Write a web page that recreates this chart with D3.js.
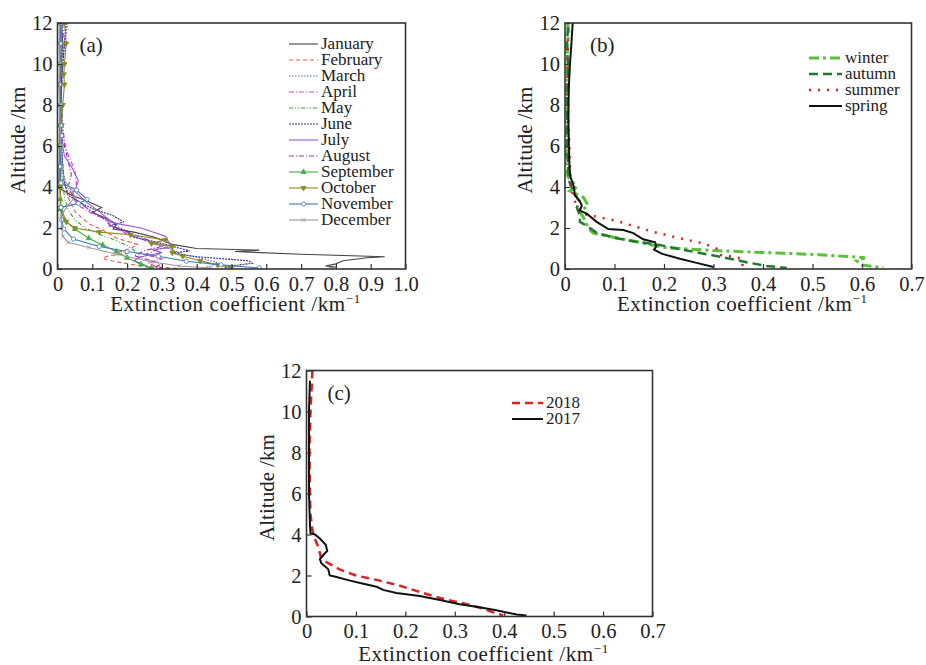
<!DOCTYPE html>
<html>
<head>
<meta charset="utf-8">
<script src="https://cdn.jsdelivr.net/npm/d3@7"></script>
<style>
  body { margin: 0; background: #fff; }
  svg text { font-family: "Liberation Serif", "Times New Roman", serif !important; fill: #222; }
</style>
</head>
<body>
<div id="chart"></div>
<script>
// tick labels
const X_TICKS_A = ["0", "0.1", "0.2", "0.3", "0.4", "0.5", "0.6", "0.7", "0.8", "0.9", "1.0"];
const X_TICKS_BC = ["0", "0.1", "0.2", "0.3", "0.4", "0.5", "0.6", "0.7"];
const Y_TICKS = [0, 2, 4, 6, 8, 10, 12];

// panel (a): monthly profiles, [extinction, altitude]
const months = ["January", "February", "March", "April", "May", "June", "July",
    "August", "September", "October", "November", "December"];
const january = [[0.012,12],[0.015,11],[0.01,10],[0.012,9],[0.008,8],[0.006,7],[0.006,6],[0.005,5],[0.004,4.2],[0.01,3.9],[0.04,3.6],[0.08,3.35],[0.127,3.0],[0.1,2.75],[0.13,2.55],[0.17,2.2],[0.16,1.95],[0.22,1.8],[0.28,1.55],[0.33,1.2],[0.4,1.0],[0.58,0.92],[0.51,0.85],[0.7,0.72],[0.94,0.6],[0.89,0.55],[0.82,0.4],[0.8,0.25],[0.77,0.15],[0.8,0.1],[0.78,0.05]];
const february = [[0.01,12],[0.006,11],[0.008,10],[0.005,9],[0.006,8],[0.008,7],[0.01,6],[0.012,5],[0.02,4.2],[0.03,3.5],[0.05,2.8],[0.09,2.2],[0.13,1.9],[0.17,1.5],[0.23,1.2],[0.21,1.0],[0.18,0.85],[0.2,0.75],[0.15,0.65],[0.13,0.55],[0.14,0.45],[0.18,0.32],[0.24,0.15],[0.3,0.08],[0.35,0.03]];
const march = [[0.03,12],[0.025,11.5],[0.02,11],[0.015,10],[0.012,9],[0.01,8],[0.01,7],[0.012,6],[0.015,5],[0.02,4.3],[0.03,3.8],[0.06,3.3],[0.09,2.9],[0.13,2.5],[0.18,2.0],[0.22,1.6],[0.28,1.2],[0.33,0.95],[0.36,0.7],[0.42,0.5],[0.46,0.3],[0.44,0.15],[0.42,0.05]];
const april = [[0.015,12],[0.02,11],[0.015,10],[0.01,9],[0.012,8],[0.015,7],[0.02,6.2],[0.03,5.6],[0.05,4.8],[0.055,4.0],[0.04,3.6],[0.06,3.1],[0.1,2.7],[0.14,2.4],[0.16,2.1],[0.2,1.7],[0.26,1.35],[0.32,1.1],[0.28,0.9],[0.25,0.7],[0.3,0.5],[0.26,0.3],[0.28,0.15],[0.3,0.05]];
const may = [[0.01,12],[0.012,11],[0.008,10],[0.01,9],[0.006,8],[0.008,7],[0.01,6],[0.012,5],[0.015,4.2],[0.02,3.5],[0.03,2.9],[0.05,2.4],[0.08,2.0],[0.12,1.7],[0.16,1.45],[0.2,1.15],[0.22,0.9],[0.24,0.6],[0.22,0.4],[0.25,0.2],[0.27,0.05]];
const june = [[0.025,12],[0.02,11],[0.015,10],[0.012,9],[0.01,8],[0.01,7],[0.012,6],[0.015,5],[0.02,4.2],[0.03,3.6],[0.07,3.2],[0.1,2.95],[0.16,2.6],[0.19,2.3],[0.15,2.1],[0.2,1.85],[0.22,1.55],[0.3,1.25],[0.38,0.88],[0.33,0.78],[0.4,0.6],[0.55,0.4],[0.56,0.28],[0.5,0.15],[0.48,0.05]];
const july = [[0.01,12],[0.012,11],[0.01,10],[0.008,9],[0.01,8],[0.012,7],[0.015,6],[0.02,5.5],[0.04,5.0],[0.06,4.3],[0.05,3.8],[0.08,3.3],[0.12,2.8],[0.16,2.25],[0.24,2.0],[0.31,1.6],[0.32,1.3],[0.33,1.05],[0.27,0.95],[0.3,0.8],[0.24,0.6],[0.22,0.4],[0.25,0.2],[0.26,0.05]];
const august = [[0.012,12],[0.015,11],[0.012,10],[0.01,9],[0.012,8],[0.015,7],[0.02,6],[0.03,5.3],[0.04,4.6],[0.03,4.0],[0.05,3.4],[0.09,2.9],[0.13,2.5],[0.15,2.15],[0.2,1.8],[0.27,1.35],[0.3,1.1],[0.25,0.9],[0.22,0.65],[0.26,0.45],[0.3,0.25],[0.28,0.1],[0.3,0.04]];
const september = [[0.01,12],[0.012,11],[0.008,10],[0.006,9],[0.008,8],[0.006,7],[0.005,6],[0.006,5],[0.006,4],[0.008,3.4],[0.008,2.9],[0.02,2.4],[0.05,1.95],[0.09,1.5],[0.13,1.17],[0.17,0.85],[0.2,0.55],[0.24,0.22],[0.27,0.05]];
const october = [[0.02,12],[0.025,11],[0.02,10],[0.018,9.5],[0.02,9],[0.015,8],[0.012,7],[0.01,6],[0.01,5],[0.008,4],[0.01,3],[0.025,2.3],[0.05,2.0],[0.12,1.8],[0.21,1.67],[0.31,1.42],[0.27,1.25],[0.33,1.1],[0.33,0.8],[0.36,0.62],[0.41,0.4],[0.46,0.2],[0.5,0.05]];
const november = [[0.01,12],[0.008,11],[0.006,10],[0.006,9],[0.008,8],[0.01,7],[0.012,6.5],[0.01,6],[0.008,5],[0.01,4.2],[0.055,3.85],[0.085,3.4],[0.06,3.2],[0.01,3.0],[0.012,2.4],[0.018,1.95],[0.046,1.46],[0.12,1.1],[0.2,0.85],[0.29,0.62],[0.37,0.38],[0.47,0.2],[0.58,0.05]];
const december = [[0.006,12],[0.005,11],[0.006,10],[0.005,9],[0.006,8],[0.008,7],[0.01,6],[0.012,5],[0.02,4.3],[0.04,3.9],[0.05,3.5],[0.03,3.1],[0.01,2.6],[0.012,2.0],[0.015,1.6],[0.03,1.3],[0.09,1.05],[0.17,0.72],[0.27,0.35],[0.35,0.15],[0.44,0.05]];

// panel (b): seasonal profiles
const seasons = ["winter", "autumn", "summer", "spring"];
const winter = [[0.005,12],[0.008,11.5],[0.004,11],[0.006,10],[0.003,9],[0.005,8],[0.003,7],[0.004,6],[0.003,5],[0.006,4.5],[0.024,4.0],[0.01,3.8],[0.037,3.5],[0.047,3.1],[0.03,2.8],[0.04,2.4],[0.047,2.0],[0.057,1.75],[0.098,1.55],[0.151,1.3],[0.199,1.05],[0.3,0.9],[0.407,0.8],[0.515,0.7],[0.606,0.55],[0.589,0.4],[0.6,0.2],[0.643,0.05]];
const autumn = [[0.006,11.8],[0.004,11],[0.006,10],[0.005,9],[0.004,8],[0.005,7],[0.004,6],[0.006,5],[0.008,4.3],[0.02,3.6],[0.03,3.3],[0.024,3.0],[0.03,2.6],[0.03,2.3],[0.044,2.1],[0.065,1.75],[0.105,1.5],[0.138,1.35],[0.185,1.2],[0.246,0.9],[0.313,0.6],[0.373,0.3],[0.407,0.15],[0.448,0.05]];
const summer = [[0.006,11.2],[0.005,10],[0.005,9],[0.006,8],[0.007,7],[0.009,6],[0.01,5],[0.012,4],[0.02,3.3],[0.034,2.7],[0.064,2.55],[0.104,2.35],[0.131,2.15],[0.172,1.85],[0.232,1.5],[0.279,1.25],[0.306,1.0],[0.31,0.7],[0.35,0.55],[0.36,0.35],[0.357,0.05]];
const spring = [[0.0155,12],[0.013,11],[0.01,10],[0.008,9],[0.007,8],[0.007,7],[0.008,6],[0.009,5],[0.011,4.5],[0.018,4.0],[0.02,3.6],[0.03,3.3],[0.034,3.1],[0.03,2.85],[0.044,2.7],[0.064,2.3],[0.0875,1.95],[0.118,1.9],[0.138,1.75],[0.158,1.45],[0.182,1.3],[0.184,1.1],[0.18,0.95],[0.195,0.75],[0.232,0.5],[0.266,0.3],[0.3,0.1]];

// panel (c): yearly profiles
const years = ["2018", "2017"];
const y2018 = [[0.012,12],[0.008,10],[0.006,8],[0.007,6],[0.008,5],[0.012,4.2],[0.015,3.9],[0.022,3.5],[0.027,3.1],[0.03,2.8],[0.044,2.6],[0.067,2.3],[0.1,2.0],[0.148,1.75],[0.189,1.5],[0.229,1.2],[0.27,0.9],[0.324,0.6],[0.355,0.4],[0.378,0.2],[0.398,0.05]];
const y2017 = [[0.007,11.5],[0.005,10],[0.005,8],[0.005,6],[0.007,4.5],[0.008,4.05],[0.017,4.0],[0.027,3.8],[0.039,3.5],[0.042,3.2],[0.034,3.0],[0.027,2.8],[0.03,2.6],[0.044,2.3],[0.047,2.0],[0.057,1.95],[0.088,1.75],[0.115,1.6],[0.142,1.45],[0.155,1.3],[0.182,1.15],[0.229,1.0],[0.27,0.8],[0.31,0.6],[0.35,0.45],[0.384,0.3],[0.405,0.2],[0.425,0.1],[0.445,0.05]];

const FONT = '"Liberation Serif", "Times New Roman", serif';
const AXIS_COLOR = '#333';

const svg = d3.select('#chart').append('svg')
    .attr('width', 926)
    .attr('height', 665)
    .attr('font-family', FONT);

function drawPanel(p) {
    const x = d3.scaleLinear().domain([0, p.xMax]).range([p.left, p.right]);
    const y = d3.scaleLinear().domain([0, 12]).range([p.bottom, p.top]);
    const g = svg.append('g');

    const clipId = 'clip-' + p.tag;
    g.append('clipPath').attr('id', clipId)
        .append('rect')
        .attr('x', p.left).attr('y', p.top)
        .attr('width', p.right - p.left).attr('height', p.bottom - p.top);

    const line = d3.line().x(d => x(d[0])).y(d => y(d[1]));
    const plot = g.append('g').attr('clip-path', `url(#${clipId})`);

    p.series.forEach(s => {
        plot.append('path')
            .datum(s.values)
            .attr('d', line)
            .attr('fill', 'none')
            .attr('stroke', s.color)
            .attr('stroke-width', s.width)
            .attr('stroke-dasharray', s.dash || null);
        if (s.marker) drawMarkers(plot, s.values.map(d => [x(d[0]), y(d[1])]), s);
    });

    // axes, ticks pointing inward
    const xAxis = d3.axisBottom(x)
        .tickValues(p.xLabels.map(Number))
        .tickFormat((d, i) => p.xLabels[i])
        .tickSize(-5).tickPadding(7);
    const gx = g.append('g').attr('transform', `translate(0,${p.bottom})`).call(xAxis);
    const yAxis = d3.axisLeft(y)
        .tickValues(Y_TICKS)
        .tickSize(-5).tickPadding(5);
    const gy = g.append('g').attr('transform', `translate(${p.left},0)`).call(yAxis);
    [gx, gy].forEach(a => {
        a.attr('font-family', FONT).attr('font-size', 20.5);
        a.select('.domain').remove();
        a.selectAll('line').attr('stroke', AXIS_COLOR).attr('stroke-width', 1.2);
        a.selectAll('text').attr('fill', '#222');
    });

    g.append('rect')
        .attr('x', p.left).attr('y', p.top)
        .attr('width', p.right - p.left).attr('height', p.bottom - p.top)
        .attr('fill', 'none').attr('stroke', AXIS_COLOR).attr('stroke-width', 1.6);

    // axis titles
    const xt = g.append('text')
        .attr('x', (p.left + p.right) / 2 + 4)
        .attr('y', p.bottom + p.titleDy)
        .attr('text-anchor', 'middle')
        .attr('font-size', 21)
        .attr('letter-spacing', 0.6);
    xt.append('tspan').text('Extinction coefficient /km');
    xt.append('tspan').attr('dy', -8).attr('font-size', 13).text('−1');

    g.append('text')
        .attr('transform', `translate(${p.left - 33},${(p.top + p.bottom) / 2 - 6}) rotate(-90)`)
        .attr('text-anchor', 'middle')
        .attr('font-size', 21)
        .text('Altitude /km');

    g.append('text')
        .attr('x', p.left + p.labelDx).attr('y', p.top + 29)
        .attr('font-size', 21)
        .text(`(${p.tag})`);

    // legend
    p.series.forEach((s, i) => {
        const ly = p.legend.y + i * p.legend.step;
        g.append('line')
            .attr('x1', p.legend.x).attr('x2', p.legend.x + p.legend.len)
            .attr('y1', ly).attr('y2', ly)
            .attr('stroke', s.color)
            .attr('stroke-width', s.width)
            .attr('stroke-dasharray', s.dash || null);
        if (s.marker) drawMarkers(g, [[p.legend.x + p.legend.len / 2, ly]], s);
        g.append('text')
            .attr('x', p.legend.x + p.legend.len + 3)
            .attr('y', ly + 5)
            .attr('font-size', p.legend.font)
            .text(s.name);
    });
}

function drawMarkers(parent, pts, s) {
    const sym = {
        up: d3.symbolTriangle, down: d3.symbolTriangle,
        circle: d3.symbolCircle, cross: d3.symbolX
    }[s.marker];
    parent.selectAll(null)
        .data(pts)
        .join('path')
        .attr('transform', d => `translate(${d[0]},${d[1]})${s.marker === 'down' ? ' rotate(180)' : ''}`)
        .attr('d', d3.symbol().type(sym).size(s.marker === 'circle' ? 14 : 12))
        .attr('fill', s.marker === 'circle' ? '#fff' : s.color)
        .attr('stroke', s.color)
        .attr('stroke-width', 0.8);
}

const monthStyles = [
    { color: '#444444', dash: null },
    { color: '#ee5555', dash: '4,3' },
    { color: '#5566dd', dash: '1.5,1.5' },
    { color: '#d040c0', dash: '5,2,1,2' },
    { color: '#33a033', dash: '4,2,1,2,1,2' },
    { color: '#2c2c90', dash: '2,1' },
    { color: '#9955dd', dash: null },
    { color: '#9a30a8', dash: '5,2,1,2' },
    { color: '#44b044', dash: null, marker: 'up' },
    { color: '#8a8a22', dash: null, marker: 'down' },
    { color: '#3a78b8', dash: null, marker: 'circle' },
    { color: '#999999', dash: null, marker: 'cross' }
];
const monthValues = [january, february, march, april, may, june, july, august,
    september, october, november, december];

drawPanel({
    tag: 'a', xMax: 1.0, xLabels: X_TICKS_A, labelDx: 22, titleDy: 42,
    left: 57.5, right: 405.5, top: 23, bottom: 269,
    legend: { x: 289, y: 44, step: 16, len: 29, font: 17 },
    series: months.map((m, i) => ({
        name: m, values: monthValues[i], width: 1.1, ...monthStyles[i]
    }))
});

const seasonStyles = [
    { color: '#5cbf3c', width: 3, dash: '10,4,3,4' },
    { color: '#1f7a2e', width: 2.5, dash: '9,5' },
    { color: '#d02020', width: 2.5, dash: '2,7' },
    { color: '#111111', width: 2, dash: null }
];
const seasonValues = [winter, autumn, summer, spring];

drawPanel({
    tag: 'b', xMax: 0.7, xLabels: X_TICKS_BC, labelDx: 25, titleDy: 42,
    left: 565, right: 911.5, top: 23, bottom: 269,
    legend: { x: 809, y: 58, step: 16, len: 33, font: 17 },
    series: seasons.map((s, i) => ({ name: s, values: seasonValues[i], ...seasonStyles[i] }))
});

const yearStyles = [
    { color: '#dd2222', width: 2.5, dash: '8,5' },
    { color: '#111111', width: 2, dash: null }
];
const yearValues = [y2018, y2017];

drawPanel({
    tag: 'c', xMax: 0.7, xLabels: X_TICKS_BC, labelDx: 21, titleDy: 44,
    left: 306.5, right: 652.5, top: 370.5, bottom: 616.5,
    legend: { x: 512, y: 403, step: 16, len: 31, font: 17 },
    series: years.map((s, i) => ({ name: s, values: yearValues[i], ...yearStyles[i] }))
});
</script>
</body>
</html>
